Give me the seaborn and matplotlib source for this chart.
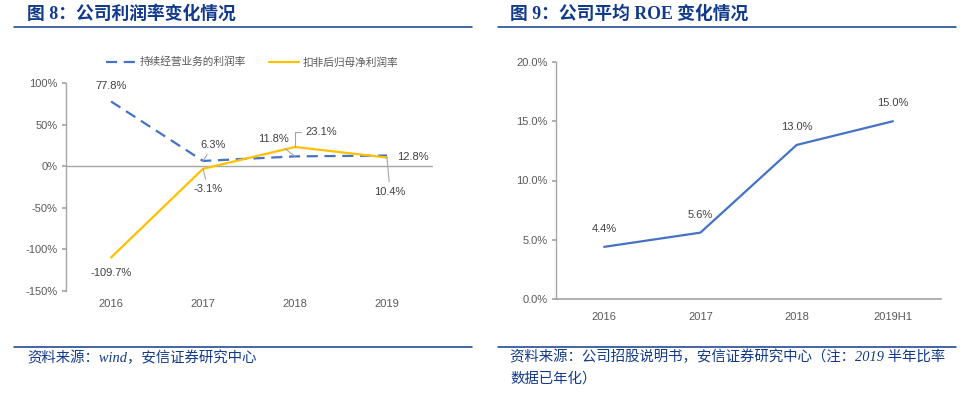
import matplotlib
matplotlib.use("Agg")
import matplotlib.pyplot as plt
import seaborn as sns
import pandas as pd
from matplotlib.lines import Line2D

# data
years_left = ["2016", "2017", "2018", "2019"]
cont_margin = [77.8, 6.3, 11.8, 12.8]      # 持续经营业务的利润率
deduct_margin = [-109.7, -3.1, 23.1, 10.4]  # 扣非后归母净利润率
years_right = ["2016", "2017", "2018", "2019H1"]
roe = [4.4, 5.6, 13.0, 15.0]

BLUE = "#4472C4"
YELLOW = "#FFC000"
NAVY = "#123A8C"
GRAY_TXT = "#595959"
AXIS_GRAY = "#A6A6A6"

sns.set_theme(style="white")
plt.rcParams["font.family"] = ["Liberation Sans", "Noto Sans CJK SC", "DejaVu Sans"]

W, H = 980, 398
fig = plt.figure(figsize=(W / 100, H / 100), dpi=100)


def px_axes(x0, y_top, x1, y_bot):
    return fig.add_axes([x0 / W, 1 - y_bot / H, (x1 - x0) / W, (y_bot - y_top) / H])


def style_axes(ax, xpad):
    sns.despine(ax=ax, top=True, right=True, bottom=True)
    ax.spines["left"].set_color(AXIS_GRAY)
    ax.spines["left"].set_linewidth(1)
    ax.tick_params(axis="y", left=True, length=3, color=AXIS_GRAY, labelsize=8, labelcolor=GRAY_TXT, pad=3)
    ax.tick_params(axis="x", bottom=False, length=0, labelsize=8, labelcolor=GRAY_TXT, pad=xpad)
    ax.set_xlabel("")
    ax.set_ylabel("")
    ax.grid(False)


def label(ax, x, y, txt, dx, dy, leader=False, conn="arc3"):
    kw = dict(textcoords="offset pixels", ha="center", va="center", fontsize=8, color="#404040")
    if leader:
        kw["arrowprops"] = dict(arrowstyle="-", color=AXIS_GRAY, lw=0.8, shrinkA=1, shrinkB=0,
                                connectionstyle=conn)
    ax.annotate(txt, xy=(x, y), xytext=(dx, dy), **kw)


# ---------------- left chart ----------------
df_l = pd.DataFrame({"x": range(len(years_left)), "cont": cont_margin, "deduct": deduct_margin})
ax1 = px_axes(66, 83, 433, 291)
sns.lineplot(data=df_l, x="x", y="cont", ax=ax1, color=BLUE, lw=1.6)
ax1.lines[-1].set_dashes((5, 3))
sns.lineplot(data=df_l, x="x", y="deduct", ax=ax1, color=YELLOW, lw=1.6)
ax1.axhline(0, color=AXIS_GRAY, lw=1, zorder=0)
ax1.set_xlim(-0.49, 3.5)
ax1.set_ylim(-150, 100)
ax1.set_yticks([100, 50, 0, -50, -100, -150])
ax1.set_yticklabels([f"{v}%" for v in [100, 50, 0, -50, -100, -150]])
ax1.set_xticks(range(len(years_left)))
ax1.set_xticklabels(years_left)
style_axes(ax1, 5.5)

label(ax1, 0, cont_margin[0], "77.8%", 0, 15)
label(ax1, 0, deduct_margin[0], "-109.7%", 0, -16)
label(ax1, 1, cont_margin[1], "6.3%", 10, 16, leader=True)
label(ax1, 1, deduct_margin[1], "-3.1%", 5, -20, leader=True)
label(ax1, 2, cont_margin[2], "11.8%", -22, 17, leader=True)
label(ax1, 2, deduct_margin[2], "23.1%", 26, 15, leader=True, conn="angle,angleA=0,angleB=90,rad=0")
label(ax1, 3, cont_margin[3], "12.8%", 26, -1)
label(ax1, 3, deduct_margin[3], "10.4%", 3, -34, leader=True)

handles = [Line2D([], [], color=BLUE, lw=1.6, dashes=(5, 3)),
           Line2D([], [], color=YELLOW, lw=1.6)]
fig.legend(handles, ["持续经营业务的利润率", "扣非后归母净利润率"], loc="center",
           bbox_to_anchor=(252 / W, 1 - 62 / H), ncol=2, frameon=False, fontsize=7.7,
           labelcolor=GRAY_TXT, handlelength=2.8, columnspacing=2.2, handletextpad=0.3)

# ---------------- right chart ----------------
df_r = pd.DataFrame({"x": range(len(years_right)), "roe": roe})
ax2 = px_axes(556, 62, 941, 299)
sns.lineplot(data=df_r, x="x", y="roe", ax=ax2, color=BLUE, lw=1.6)
ax2.set_xlim(-0.5, 3.5)
ax2.set_ylim(0, 20)
ax2.set_yticks([0, 5, 10, 15, 20])
ax2.set_yticklabels([f"{v:.1f}%" for v in [0, 5, 10, 15, 20]])
ax2.set_xticks(range(len(years_right)))
ax2.set_xticklabels(years_right)
style_axes(ax2, 9)
sns.despine(ax=ax2, top=True, right=True, bottom=False)
ax2.spines["bottom"].set_color(AXIS_GRAY)
for i, v in enumerate(roe):
    label(ax2, i, v, f"{v:.1f}%", 0, 18)

# ---------------- titles, rules, sources ----------------
title_font = ["Liberation Serif", "Noto Sans CJK SC"]
fig.text(27 / W, 1 - 14 / H, "图 8：公司利润率变化情况", family=title_font, fontsize=12.8,
         weight="bold", color=NAVY, va="center", ha="left")
fig.text(510 / W, 1 - 14 / H, "图 9：公司平均 ROE 变化情况", family=title_font, fontsize=12.8,
         weight="bold", color=NAVY, va="center", ha="left")

for x0, x1 in [(14, 472), (498, 956)]:
    for y in (27, 347):
        fig.add_artist(Line2D([x0 / W, x1 / W], [1 - y / H, 1 - y / H], color=NAVY, lw=1.1))

src_font = ["Liberation Serif", "Noto Sans CJK SC"]
fig.text(27 / W, 1 - 358 / H, "资料来源：wind，安信证券研究中心", family=src_font, fontsize=10.4,
         style="italic", color=NAVY, va="center", ha="left")
fig.text(510 / W, 1 - 357 / H, "资料来源：公司招股说明书，安信证券研究中心（注：2019 半年比率",
         family=src_font, fontsize=10.4, style="italic", color=NAVY, va="center", ha="left")
fig.text(510 / W, 1 - 379 / H, "数据已年化）", family=src_font, fontsize=10.4,
         style="italic", color=NAVY, va="center", ha="left")

fig.savefig("out.png", dpi=100)
